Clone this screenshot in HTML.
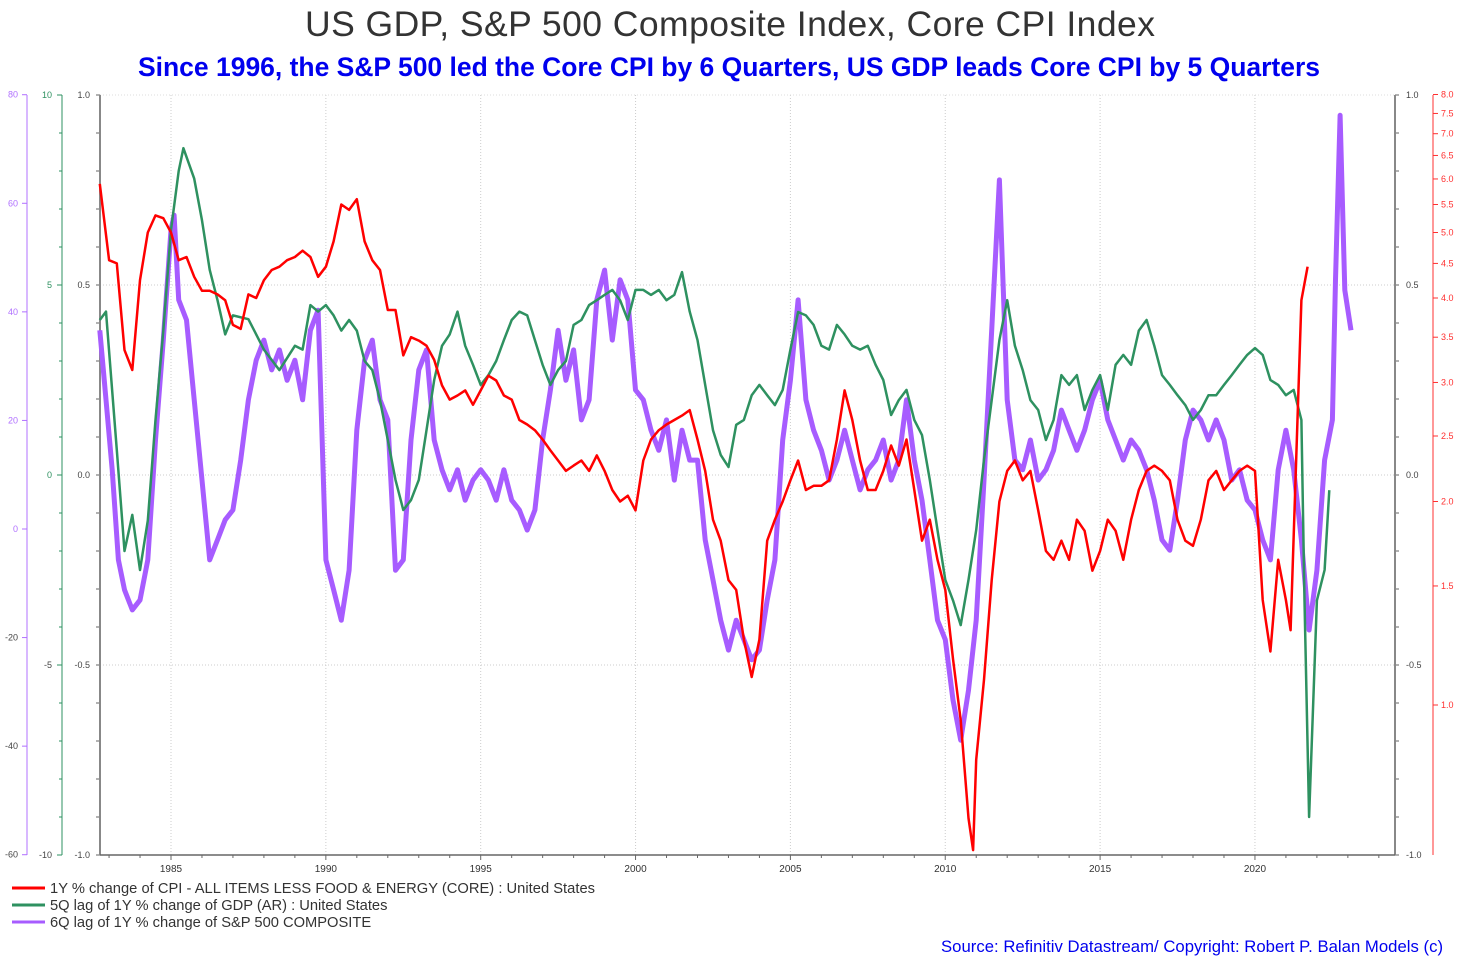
<!DOCTYPE html>
<html><head><meta charset="utf-8">
<style>
body{margin:0;background:#fff;width:1459px;height:956px;overflow:hidden;font-family:"Liberation Sans",sans-serif}
svg{display:block}
</style></head>
<body>
<svg id="chart" width="1459" height="956" viewBox="0 0 1459 956" xmlns="http://www.w3.org/2000/svg">
<text x="730" y="36" text-anchor="middle" font-size="35.5" fill="#333" font-family="Liberation Sans, sans-serif" textLength="850">US GDP, S&amp;P 500 Composite Index, Core CPI Index</text>
<text x="729" y="76" text-anchor="middle" font-size="26.5" font-weight="bold" fill="#0000ee" font-family="Liberation Sans, sans-serif" textLength="1182">Since 1996, the S&amp;P 500 led the Core CPI by 6 Quarters, US GDP leads Core CPI by 5 Quarters</text>
<g id="grid"></g>
<g id="axes"></g>
<g id="series"></g>
<g font-size="14.7" fill="#333" font-family="Liberation Sans, sans-serif">
<line x1="12" y1="888" x2="45" y2="888" stroke="#ff0000" stroke-width="3"/>
<text x="50" y="893" textLength="545">1Y % change of CPI - ALL ITEMS LESS FOOD &amp; ENERGY (CORE) : United States</text>
<line x1="12" y1="905" x2="45" y2="905" stroke="#2e9160" stroke-width="3"/>
<text x="50" y="910">5Q lag of 1Y % change of GDP (AR) : United States</text>
<line x1="12" y1="922" x2="45" y2="922" stroke="#a75cff" stroke-width="3"/>
<text x="50" y="927">6Q lag of 1Y % change of S&amp;P 500 COMPOSITE</text>
</g>
<text x="1443" y="952" text-anchor="end" font-size="16.7" fill="#0000ee" font-family="Liberation Sans, sans-serif" textLength="502">Source: Refinitiv Datastream/ Copyright: Robert P. Balan Models (c)</text>
</svg>
<script>
const xYears=[1985,1990,1995,2000,2005,2010,2015,2020];
const midTicks=[-1.0,-0.5,0.0,0.5,1.0];
const spTicks=[-60,-40,-20,0,20,40,60,80];
const gdpTicks=[-10,-5,0,5,10];
const cpiTicks=[1.0,1.5,2.0,2.5,3.0,3.5,4.0,4.5,5.0,5.5,6.0,6.5,7.0,7.5,8.0];
const cpi=[[1982.7,5.9],[1983.0,4.55],[1983.25,4.5],[1983.5,3.35],[1983.75,3.13],[1984.0,4.25],[1984.25,5.0],[1984.5,5.3],[1984.75,5.25],[1985.0,5.0],[1985.25,4.55],[1985.5,4.6],[1985.75,4.3],[1986.0,4.1],[1986.25,4.1],[1986.5,4.05],[1986.75,3.97],[1987.0,3.65],[1987.25,3.6],[1987.5,4.05],[1987.75,4.0],[1988.0,4.25],[1988.25,4.4],[1988.5,4.45],[1988.75,4.55],[1989.0,4.6],[1989.25,4.7],[1989.5,4.6],[1989.75,4.3],[1990.0,4.45],[1990.25,4.85],[1990.5,5.5],[1990.75,5.4],[1991.0,5.6],[1991.25,4.85],[1991.5,4.55],[1991.75,4.4],[1992.0,3.84],[1992.25,3.84],[1992.5,3.29],[1992.75,3.5],[1993.0,3.46],[1993.25,3.4],[1993.5,3.24],[1993.75,2.97],[1994.0,2.83],[1994.25,2.87],[1994.5,2.92],[1994.75,2.78],[1995.0,2.92],[1995.25,3.07],[1995.5,3.02],[1995.75,2.87],[1996.0,2.83],[1996.25,2.64],[1996.5,2.6],[1996.75,2.55],[1997.0,2.47],[1997.25,2.38],[1997.5,2.3],[1997.75,2.22],[1998.0,2.26],[1998.25,2.3],[1998.5,2.22],[1998.75,2.34],[1999.0,2.22],[1999.25,2.08],[1999.5,2.0],[1999.75,2.04],[2000.0,1.94],[2000.25,2.3],[2000.5,2.47],[2000.75,2.55],[2001.0,2.6],[2001.25,2.64],[2001.5,2.68],[2001.75,2.73],[2002.0,2.47],[2002.25,2.22],[2002.5,1.88],[2002.75,1.75],[2003.0,1.53],[2003.25,1.48],[2003.5,1.25],[2003.75,1.1],[2004.0,1.25],[2004.25,1.75],[2004.5,1.88],[2004.75,2.0],[2005.0,2.15],[2005.25,2.3],[2005.5,2.08],[2005.75,2.11],[2006.0,2.11],[2006.25,2.15],[2006.5,2.47],[2006.75,2.92],[2007.0,2.64],[2007.25,2.3],[2007.5,2.08],[2007.75,2.08],[2008.0,2.22],[2008.25,2.42],[2008.5,2.26],[2008.75,2.47],[2009.0,2.08],[2009.25,1.75],[2009.5,1.88],[2009.75,1.64],[2010.0,1.48],[2010.25,1.17],[2010.5,0.95],[2010.75,0.68],[2010.9,0.61],[2011.0,0.83],[2011.25,1.09],[2011.5,1.53],[2011.75,2.0],[2012.0,2.22],[2012.25,2.3],[2012.5,2.15],[2012.75,2.22],[2013.0,1.94],[2013.25,1.69],[2013.5,1.64],[2013.75,1.75],[2014.0,1.64],[2014.25,1.88],[2014.5,1.81],[2014.75,1.58],[2015.0,1.69],[2015.25,1.88],[2015.5,1.81],[2015.75,1.64],[2016.0,1.88],[2016.25,2.08],[2016.5,2.22],[2016.75,2.26],[2017.0,2.22],[2017.25,2.15],[2017.5,1.88],[2017.75,1.75],[2018.0,1.72],[2018.25,1.88],[2018.5,2.15],[2018.75,2.22],[2019.0,2.08],[2019.25,2.15],[2019.5,2.22],[2019.75,2.26],[2020.0,2.22],[2020.25,1.43],[2020.5,1.2],[2020.75,1.64],[2021.0,1.43],[2021.15,1.29],[2021.5,3.97],[2021.7,4.45]];
const gdp=[[1982.7,4.08],[1982.9,4.3],[1983.25,0.66],[1983.5,-2],[1983.75,-1.05],[1984.0,-2.5],[1984.25,-1.2],[1984.5,1.45],[1984.75,3.8],[1985.0,6.45],[1985.25,8.0],[1985.4,8.6],[1985.75,7.8],[1986.0,6.7],[1986.25,5.4],[1986.5,4.6],[1986.75,3.7],[1987.0,4.2],[1987.5,4.1],[1987.75,3.7],[1988.0,3.3],[1988.5,2.76],[1989.0,3.4],[1989.25,3.3],[1989.5,4.47],[1989.75,4.3],[1990.0,4.47],[1990.25,4.2],[1990.5,3.8],[1990.75,4.08],[1991.0,3.8],[1991.25,3.0],[1991.5,2.76],[1991.75,1.97],[1992.0,0.92],[1992.25,-0.13],[1992.5,-0.92],[1992.75,-0.66],[1993.0,-0.13],[1993.25,1.18],[1993.5,2.5],[1993.75,3.4],[1994.0,3.7],[1994.25,4.3],[1994.5,3.4],[1994.75,2.9],[1995.0,2.37],[1995.25,2.63],[1995.5,3.0],[1995.75,3.55],[1996.0,4.08],[1996.25,4.3],[1996.5,4.2],[1996.75,3.55],[1997.0,2.9],[1997.25,2.37],[1997.5,2.76],[1997.75,3.0],[1998.0,3.95],[1998.25,4.08],[1998.5,4.47],[1998.75,4.6],[1999.0,4.74],[1999.25,4.87],[1999.5,4.6],[1999.75,4.08],[2000.0,4.87],[2000.25,4.87],[2000.5,4.74],[2000.75,4.87],[2001.0,4.6],[2001.25,4.74],[2001.5,5.34],[2001.75,4.3],[2002.0,3.55],[2002.25,2.37],[2002.5,1.18],[2002.75,0.53],[2003.0,0.21],[2003.25,1.32],[2003.5,1.45],[2003.75,2.1],[2004.0,2.37],[2004.25,2.1],[2004.5,1.84],[2004.75,2.24],[2005.0,3.3],[2005.25,4.29],[2005.5,4.2],[2005.75,3.95],[2006.0,3.4],[2006.25,3.3],[2006.5,3.95],[2006.75,3.7],[2007.0,3.4],[2007.25,3.3],[2007.5,3.4],[2007.75,2.9],[2008.0,2.5],[2008.25,1.58],[2008.5,1.97],[2008.75,2.24],[2009.0,1.45],[2009.25,1.05],[2009.5,-0.13],[2009.75,-1.45],[2010.0,-2.76],[2010.25,-3.3],[2010.5,-3.95],[2010.75,-2.76],[2011.0,-1.45],[2011.25,0.4],[2011.5,1.97],[2011.75,3.55],[2012.0,4.6],[2012.25,3.4],[2012.5,2.76],[2012.75,1.97],[2013.0,1.71],[2013.25,0.92],[2013.5,1.45],[2013.75,2.63],[2014.0,2.37],[2014.25,2.63],[2014.5,1.71],[2014.75,2.24],[2015.0,2.63],[2015.25,1.71],[2015.5,2.9],[2015.75,3.16],[2016.0,2.9],[2016.25,3.8],[2016.5,4.08],[2016.75,3.4],[2017.0,2.63],[2017.25,2.37],[2017.5,2.1],[2017.75,1.84],[2018.0,1.45],[2018.25,1.71],[2018.5,2.1],[2018.75,2.1],[2019.0,2.37],[2019.25,2.63],[2019.5,2.9],[2019.75,3.16],[2020.0,3.34],[2020.25,3.16],[2020.5,2.5],[2020.75,2.37],[2021.0,2.1],[2021.25,2.24],[2021.5,1.45],[2021.6,-3.3],[2021.75,-9.0],[2022.0,-3.3],[2022.25,-2.5],[2022.4,-0.4]];
const sp500=[[1982.7,36.6],[1982.9,23.8],[1983.1,10.9],[1983.3,-5.7],[1983.5,-11.2],[1983.75,-14.9],[1984.0,-13.1],[1984.25,-5.7],[1984.5,16.4],[1984.75,34.8],[1985.0,55.1],[1985.1,57.8],[1985.25,42.2],[1985.5,38.5],[1985.75,23.8],[1986.0,9.0],[1986.25,-5.7],[1986.5,-2.0],[1986.75,1.7],[1987.0,3.5],[1987.25,12.7],[1987.5,23.8],[1987.75,31.1],[1988.0,34.8],[1988.25,29.3],[1988.5,33.0],[1988.75,27.4],[1989.0,31.1],[1989.25,23.8],[1989.5,36.6],[1989.75,40.3],[1990.0,-5.7],[1990.25,-11.2],[1990.5,-16.8],[1990.75,-7.6],[1991.0,18.2],[1991.25,31.1],[1991.5,34.8],[1991.75,23.8],[1992.0,20.1],[1992.25,-7.6],[1992.5,-5.7],[1992.75,16.4],[1993.0,29.3],[1993.25,33.0],[1993.5,16.4],[1993.75,10.9],[1994.0,7.2],[1994.25,10.9],[1994.5,5.3],[1994.75,9.0],[1995.0,10.9],[1995.25,9.0],[1995.5,5.3],[1995.75,10.9],[1996.0,5.3],[1996.25,3.5],[1996.5,-0.2],[1996.75,3.5],[1997.0,16.4],[1997.25,25.6],[1997.5,36.6],[1997.75,27.4],[1998.0,33.0],[1998.25,20.1],[1998.5,23.8],[1998.75,42.2],[1999.0,47.7],[1999.25,34.8],[1999.5,45.9],[1999.75,42.2],[2000.0,25.6],[2000.25,23.8],[2000.5,18.2],[2000.75,14.5],[2001.0,20.1],[2001.25,9.0],[2001.5,18.2],[2001.75,12.7],[2002.0,12.7],[2002.25,-2.0],[2002.5,-9.4],[2002.75,-16.8],[2003.0,-22.3],[2003.25,-16.8],[2003.5,-20.4],[2003.75,-24.1],[2004.0,-22.3],[2004.25,-13.1],[2004.5,-5.7],[2004.75,16.4],[2005.0,27.4],[2005.25,42.2],[2005.5,23.8],[2005.75,18.2],[2006.0,14.5],[2006.25,9.0],[2006.5,12.7],[2006.75,18.2],[2007.0,12.7],[2007.25,7.2],[2007.5,10.9],[2007.75,12.7],[2008.0,16.4],[2008.25,9.0],[2008.5,12.7],[2008.75,23.8],[2009.0,12.7],[2009.25,5.3],[2009.5,-5.7],[2009.75,-16.8],[2010.0,-20.4],[2010.25,-31.5],[2010.5,-38.9],[2010.75,-29.7],[2011.0,-16.8],[2011.25,9.0],[2011.5,36.6],[2011.75,64.3],[2012.0,23.8],[2012.25,12.7],[2012.5,10.9],[2012.75,16.4],[2013.0,9.0],[2013.25,10.9],[2013.5,14.5],[2013.75,21.9],[2014.0,18.2],[2014.25,14.5],[2014.5,18.2],[2014.75,23.8],[2015.0,27.4],[2015.25,20.1],[2015.5,16.4],[2015.75,12.7],[2016.0,16.4],[2016.25,14.5],[2016.5,10.9],[2016.75,5.3],[2017.0,-2.0],[2017.25,-3.9],[2017.5,5.3],[2017.75,16.4],[2018.0,21.9],[2018.25,20.1],[2018.5,16.4],[2018.75,20.1],[2019.0,16.4],[2019.25,9.0],[2019.5,10.9],[2019.75,5.3],[2020.0,3.5],[2020.25,-2.0],[2020.5,-5.7],[2020.75,10.9],[2021.0,18.2],[2021.25,10.9],[2021.5,-2.0],[2021.75,-18.6],[2022.0,-7.6],[2022.25,12.7],[2022.5,20.1],[2022.6,45.9],[2022.75,76.2],[2022.9,44.0],[2023.1,36.6]];

const NS="http://www.w3.org/2000/svg";
const L=100,R=1395,T=95,B=855;
const xS=y=>171+(y-1985)*30.97;
const yMid=v=>475-v*380;
const ySP=v=>529-v*(760/140);
const yGDP=v=>475-v*38;
const yCPI=v=>705-203.5*Math.log2(v);
function el(tag,attrs,parent,txt){const e=document.createElementNS(NS,tag);for(const k in attrs)e.setAttribute(k,attrs[k]);if(txt!==undefined)e.textContent=txt;parent.appendChild(e);return e;}
const grid=document.getElementById('grid'),axes=document.getElementById('axes'),ser=document.getElementById('series');
xYears.forEach(yr=>{
  const g=el('line',{x1:xS(yr),x2:xS(yr),y1:T,y2:B,stroke:'#ccc','stroke-dasharray':'1,2'},grid);
  
  
  const t=el('text',{x:xS(yr),y:872,'text-anchor':'middle','font-size':10,fill:'#333'},axes,String(yr));
  
  
});
for(let yr=1983;yr<=2024;yr++){el('line',{x1:xS(yr),x2:xS(yr),y1:B,y2:B+(yr%5==0?5:3),stroke:'#666'},axes);}
el('line',{x1:L,x2:R,y1:T,y2:T,stroke:'#ddd','stroke-dasharray':'1,2'},grid);
midTicks.forEach(v=>{
  if(Math.abs(v)<1){const g=el('line',{x1:L,x2:R,y1:yMid(v),y2:yMid(v),stroke:'#ccc','stroke-dasharray':'1,2'},grid);
  
  }
  const a=el('text',{x:90,y:yMid(v)+3,'text-anchor':'end','font-size':9,fill:'#444'},axes,v.toFixed(1));
  
  
  const b=el('text',{x:1406,y:yMid(v)+3,'font-size':9,fill:'#444'},axes,v.toFixed(1));
  
  
});
for(let v=-1;v<=1.001;v+=0.1){el('line',{x1:L-4,x2:L,y1:yMid(v),y2:yMid(v),stroke:'#666'},axes);el('line',{x1:R,x2:R+4,y1:yMid(v),y2:yMid(v),stroke:'#666'},axes);}
el('line',{x1:L,x2:L,y1:T,y2:B,stroke:'#888','stroke-width':2},axes);
el('line',{x1:R,x2:R,y1:T,y2:B,stroke:'#888','stroke-width':2},axes);
el('line',{x1:L,x2:R,y1:B,y2:B,stroke:'#666','stroke-width':1.5},axes);
el('line',{x1:27,x2:27,y1:T,y2:B,stroke:'#b070ff'},axes);
spTicks.forEach(v=>{el('line',{x1:22,x2:27,y1:ySP(v),y2:ySP(v),stroke:'#b070ff'},axes);
  const t=el('text',{x:18,y:ySP(v)+3,'text-anchor':'end','font-size':9,fill:v<0?'#444':'#b070ff'},axes,String(v));
  
  });
el('line',{x1:62,x2:62,y1:T,y2:B,stroke:'#2e9160'},axes);
for(let v=-10;v<=10;v++){el('line',{x1:v%5==0?57:59,x2:62,y1:yGDP(v),y2:yGDP(v),stroke:'#2e9160'},axes);}
gdpTicks.forEach(v=>{const t=el('text',{x:52,y:yGDP(v)+3,'text-anchor':'end','font-size':9,fill:v<0?'#444':'#2e9160'},axes,String(v));
  
  });
el('line',{x1:1433,x2:1433,y1:T,y2:B,stroke:'#ff3030'},axes);
cpiTicks.forEach(v=>{el('line',{x1:1433,x2:1438,y1:yCPI(v),y2:yCPI(v),stroke:'#ff3030'},axes);
  const t=el('text',{x:1441,y:yCPI(v)+3,'font-size':9,fill:'#ff3030'},axes,v.toFixed(1));
  
  });
function path(data,ys,color,w,name){
  const d=data.map((p,i)=>(i?'L':'M')+xS(p[0]).toFixed(1)+','+Math.min(B,ys(p[1])).toFixed(1)).join('');
  const p=el('path',{d:d,fill:'none',stroke:color,'stroke-width':w,'stroke-linejoin':'round'},ser);
  
  
}
path(sp500,ySP,'#a75cff',5,'sp500-line');
path(gdp,yGDP,'#2e9160',2.5,'gdp-line');
path(cpi,yCPI,'#ff0000',2.5,'cpi-line');
</script>
</body></html>
